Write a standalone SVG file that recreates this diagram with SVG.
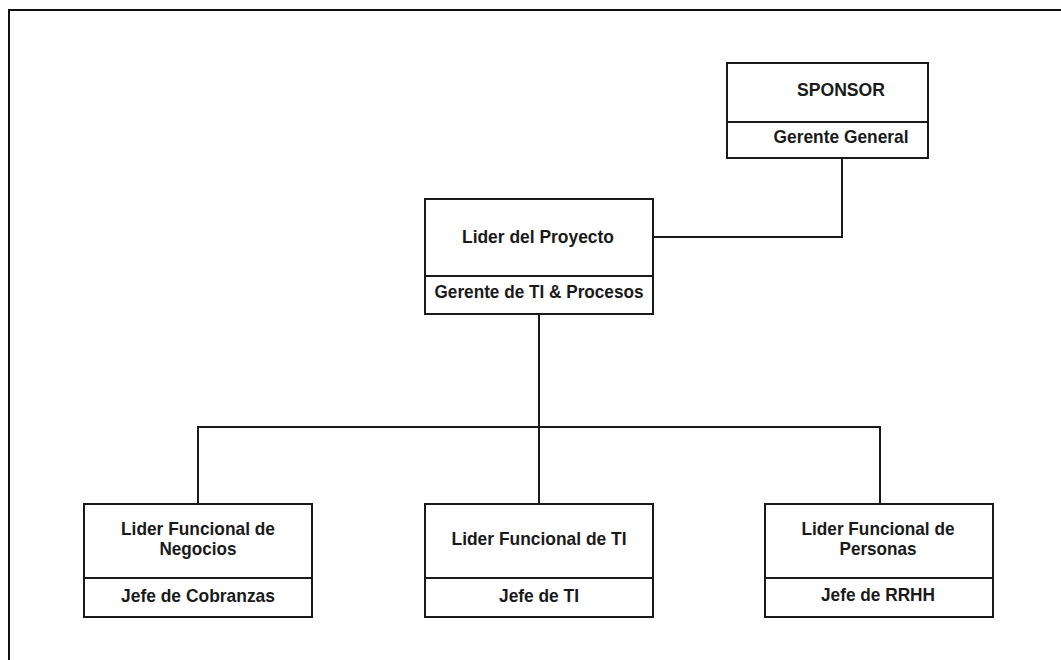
<svg xmlns="http://www.w3.org/2000/svg" width="1061" height="660" viewBox="0 0 1061 660">
<style>
.box{fill:#fff;stroke:#1a1a1a;stroke-width:2}
.div{stroke:#1a1a1a;stroke-width:2}
.con{fill:none;stroke:#1a1a1a;stroke-width:2}
text{font-family:"Liberation Sans",Arial,sans-serif;font-weight:bold;font-size:19px;fill:#1a1a1a;text-anchor:middle}
</style>
<rect x="0" y="0" width="1061" height="660" fill="#fff"/>
<path d="M9,660 V10 H1061" fill="none" stroke="#111" stroke-width="2"/>
<g id="connectors">
<path class="con" d="M842,158 V237 H653"/>
<path class="con" d="M539,314 V504"/>
<path class="con" d="M198,504 V427 H880 V504"/>
</g>
<g id="sponsor">
<rect class="box" x="727" y="63" width="201" height="95"/>
<line class="div" x1="727" y1="122" x2="928" y2="122"/>
<text x="841" y="96" textLength="88" lengthAdjust="spacingAndGlyphs">SPONSOR</text>
<text x="841" y="143" textLength="135" lengthAdjust="spacingAndGlyphs">Gerente General</text>
</g>
<g id="lider">
<rect class="box" x="425" y="199" width="228" height="115"/>
<line class="div" x1="425" y1="276" x2="653" y2="276"/>
<text x="538" y="243" textLength="152" lengthAdjust="spacingAndGlyphs">Lider del Proyecto</text>
<text x="539" y="298" textLength="209" lengthAdjust="spacingAndGlyphs">Gerente de TI &amp; Procesos</text>
</g>
<g id="negocios">
<rect class="box" x="84" y="504" width="228" height="113"/>
<line class="div" x1="84" y1="578" x2="312" y2="578"/>
<text x="198" y="535" textLength="154" lengthAdjust="spacingAndGlyphs">Lider Funcional de</text>
<text x="198" y="555" textLength="77" lengthAdjust="spacingAndGlyphs">Negocios</text>
<text x="198" y="602" textLength="154" lengthAdjust="spacingAndGlyphs">Jefe de Cobranzas</text>
</g>
<g id="ti">
<rect class="box" x="425" y="504" width="228" height="113"/>
<line class="div" x1="425" y1="578" x2="653" y2="578"/>
<text x="539" y="545" textLength="175" lengthAdjust="spacingAndGlyphs">Lider Funcional de TI</text>
<text x="539" y="602" textLength="80" lengthAdjust="spacingAndGlyphs">Jefe de TI</text>
</g>
<g id="personas">
<rect class="box" x="765" y="504" width="228" height="113"/>
<line class="div" x1="765" y1="578" x2="993" y2="578"/>
<text x="878" y="535" textLength="153" lengthAdjust="spacingAndGlyphs">Lider Funcional de</text>
<text x="878" y="555" textLength="77" lengthAdjust="spacingAndGlyphs">Personas</text>
<text x="878" y="601" textLength="114" lengthAdjust="spacingAndGlyphs">Jefe de RRHH</text>
</g>
</svg>
